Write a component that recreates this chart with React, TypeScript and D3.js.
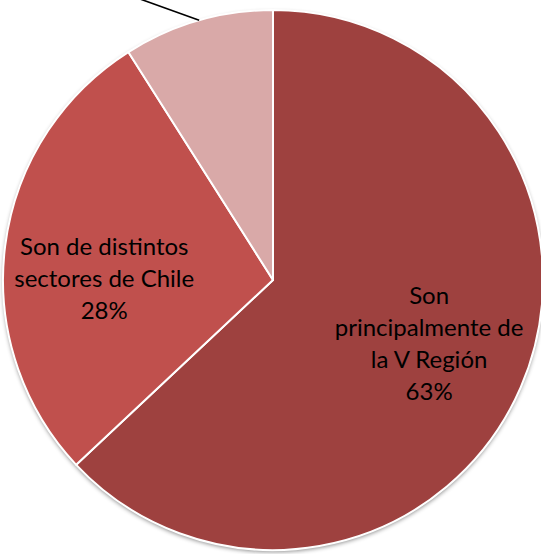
import React from "react";
import * as d3 from "d3";

const categories = ["Son principalmente de la V Región", "Son de distintos sectores de Chile", "Otros"];
const values = [63, 28, 9];
const labelLines = [
  ["Son", "principalmente de", "la V Región", "63%"],
  ["Son de distintos", "sectores de Chile", "28%"],
  [],
];
const colors = ["#9E413F", "#C0504D", "#D9A9A8"];

const W = 541;
const H = 554;

export default function App() {
  const cx = 273;
  const cy = 280;
  const r = 270;
  const pie = d3.pie<number>().sort(null).value((d) => d)(values);
  const arc = d3.arc<d3.PieArcDatum<number>>().innerRadius(0).outerRadius(r);
  const labelR = [0.63 * r, 0.63 * r, 0];
  const labelDy = [-4, 20, 0];
  const lineH = 32;

  // leader line for the small slice (label off the top of the picture)
  const small = pie[2];
  const a1 = small.startAngle + (small.endAngle - small.startAngle) * 0.51;
  const p1: [number, number] = [cx + r * Math.sin(a1), cy - r * Math.cos(a1)];
  const p2: [number, number] = [cx - 133, -1];

  return (
    <div style={{ position: "absolute", left: 0, top: 0, width: W, height: H, background: "#fff" }}>
      <svg width={W} height={H} style={{ display: "block" }}>
        <defs>
          <filter id="sh" x="-10%" y="-10%" width="120%" height="120%">
            <feDropShadow dx="0" dy="2" stdDeviation="2" floodColor="#000" floodOpacity="0.45" />
          </filter>
        </defs>
        <g transform={`translate(${cx},${cy})`}>
          <circle r={r} fill="#fff" filter="url(#sh)" />
          {pie.map((d, i) => (
            <path key={categories[i]} d={arc(d) || ""} fill={colors[i]} stroke="#fff" strokeWidth={2} strokeLinejoin="round" />
          ))}
          {pie.map((d, i) => {
            const lines = labelLines[i];
            if (!lines.length) return null;
            const mid = (d.startAngle + d.endAngle) / 2;
            const x = labelR[i] * Math.sin(mid);
            const y = -labelR[i] * Math.cos(mid) + labelDy[i];
            const top = y - ((lines.length - 1) * lineH) / 2;
            return (
              <text
                key={"l" + i}
                textAnchor="middle"
                fontFamily="Lato, 'Open Sans', sans-serif"
                fontSize={24}
                fill="#000"
              >
                {lines.map((t, j) => (
                  <tspan key={j} x={x} y={top + j * lineH} dy="0.35em">
                    {t}
                  </tspan>
                ))}
              </text>
            );
          })}
        </g>
        <line x1={p2[0]} y1={p2[1]} x2={p1[0]} y2={p1[1]} stroke="#000" strokeWidth={1.6} />
      </svg>
    </div>
  );
}
